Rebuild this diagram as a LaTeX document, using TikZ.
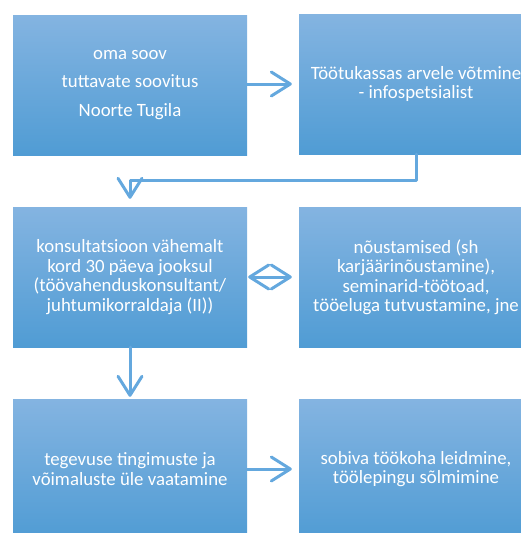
\documentclass[tikz,border=0pt]{standalone}
\usepackage{fontspec}
\setmainfont{Carlito}
\usetikzlibrary{arrows.meta,calc}
\definecolor{boxtop}{RGB}{132,180,225}
\definecolor{boxbot}{RGB}{80,156,212}
\definecolor{arrowc}{RGB}{100,168,222}
\begin{document}
\begin{tikzpicture}[x=1pt,y=1pt,
  stepbox/.style={minimum width=234pt,minimum height=140pt,inner sep=0pt,
    top color=boxtop,bottom color=boxbot,draw=none,text=white,
    align=center,font=\fontsize{18.8}{19.5}\selectfont},
  conn/.style={draw=arrowc,line width=3pt,line cap=round,line join=round,
    -{Straight Barb[length=19pt,width=24pt,line cap=round,line join=round]}},
  dconn/.style={draw=arrowc,line width=3pt,line cap=round,line join=round,
    {Straight Barb[length=19pt,width=24pt,line cap=round,line join=round]}-{Straight Barb[length=19pt,width=24pt,line cap=round,line join=round]}}
]
\useasboundingbox (0,0) rectangle (521,-533);
\clip (0,0) rectangle (521,-533);
\node[stepbox] (b1) at (130,-85) {oma soov\\[9pt]tuttavate soovitus\\[9pt]Noorte Tugila};
\node[stepbox] (b2) at (416,-84) {Töötukassas arvele võtmine\\- infospetsialist};
\node[stepbox] (b3) at (130,-277) {konsultatsioon vähemalt\\kord 30 päeva jooksul\\(töövahenduskonsultant/\\juhtumikorraldaja (II))};
\node[stepbox] (b4) at (416,-277) {nõustamised (sh\\karjäärinõustamine),\\seminarid-töötoad,\\tööeluga tutvustamine, jne};
\node[stepbox] (b5) at (130,-469) {tegevuse tingimuste ja\\võimaluste üle vaatamine};
\node[stepbox] (b6) at (416,-469) {sobiva töökoha leidmine,\\töölepingu sõlmimine};
\coordinate (k1) at ($(b2.south)+(0,-26)$);
\coordinate (k2) at ($(b1.south)+(0,-25)$);
\draw[conn,shorten >=7pt] (b1.east |- b2.west) -- (b2.west);
\draw[conn,shorten >=8pt] (b2.south) -- (k1) -- (k2) -- (b3.north);
\draw[conn,shorten >=2pt] (b3.south) -- (b5.north);
\draw[conn,shorten >=7pt] (b5.east) -- (b6.west);
\draw[dconn,shorten >=7pt,shorten <=1pt] (b3.east) -- (b4.west);
\end{tikzpicture}
\end{document}
